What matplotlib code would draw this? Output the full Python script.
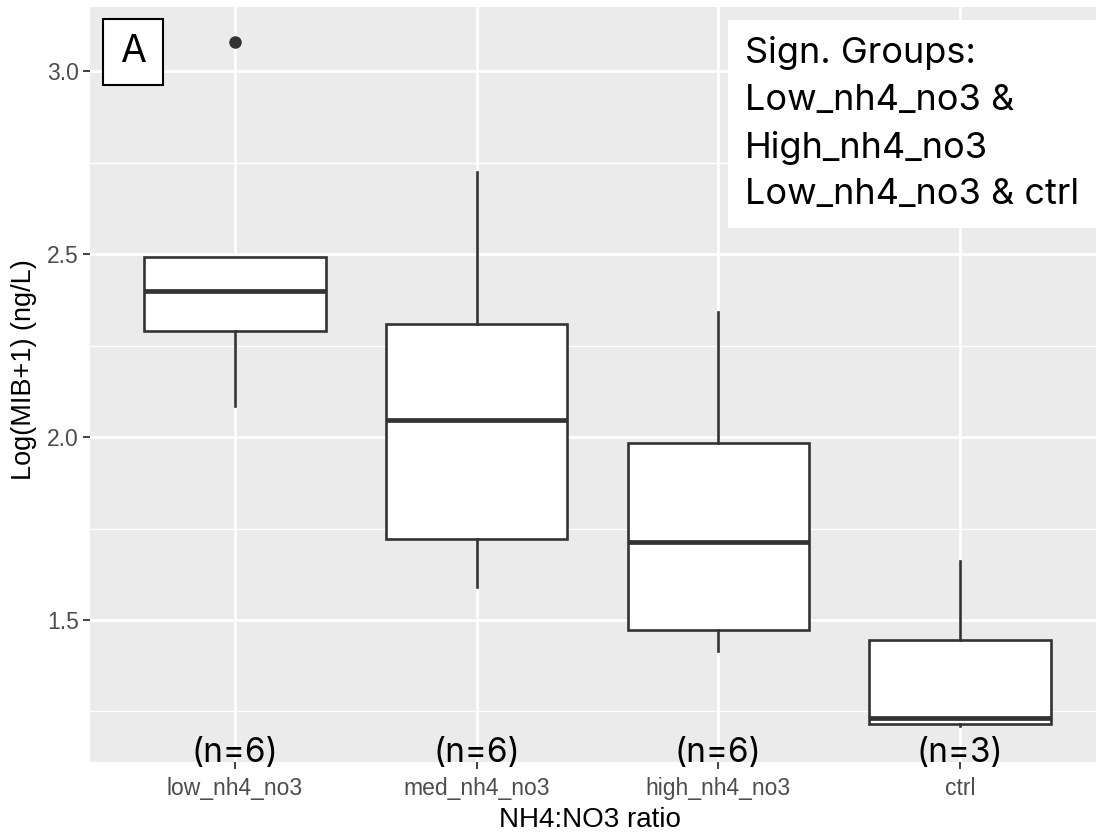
import matplotlib.pyplot as plt
from matplotlib.patches import Rectangle
from matplotlib.ticker import MultipleLocator

groups = ["low_nh4_no3", "med_nh4_no3", "high_nh4_no3", "ctrl"]
counts = [6, 6, 6, 3]
whisk_lo = [2.085, 1.59, 1.415, 1.21]
q1 = [2.29, 1.721, 1.473, 1.216]
med = [2.399, 2.046, 1.713, 1.232]
q3 = [2.492, 2.309, 1.984, 1.445]
whisk_hi = [2.492, 2.724, 2.342, 1.661]
outliers = [[3.08], [], [], []]

sign_text = "Sign. Groups:\nLow_nh4_no3 &\nHigh_nh4_no3\nLow_nh4_no3 & ctrl"

fig = plt.figure(figsize=(10.96, 8.32), dpi=100)
ax = fig.add_axes([90 / 1096, 1 - 762 / 832, 1015 / 1096, 755 / 832])
ax.set_facecolor("#EBEBEB")
for s in ax.spines.values():
    s.set_visible(False)

stats = []
for i in range(len(groups)):
    stats.append(dict(med=med[i], q1=q1[i], q3=q3[i], whislo=whisk_lo[i],
                      whishi=whisk_hi[i], fliers=outliers[i], label=groups[i]))

pos = list(range(1, len(groups) + 1))
ax.bxp(stats, positions=pos, widths=0.75, patch_artist=True, showcaps=False,
       boxprops=dict(facecolor="white", edgecolor="#333333", linewidth=1.9),
       medianprops=dict(color="#333333", linewidth=3.4, solid_capstyle="butt"),
       whiskerprops=dict(color="#333333", linewidth=1.9),
       flierprops=dict(marker="o", markerfacecolor="#333333", markeredgecolor="#333333",
                       markersize=8), zorder=3)

ax.set_xlim(0.4, 4.6)
ax.set_ylim(1.112, 3.175)
ax.yaxis.set_major_locator(MultipleLocator(0.5))
ax.yaxis.set_minor_locator(MultipleLocator(0.25))
ax.grid(which="major", color="white", linewidth=2.0, zorder=0)
ax.grid(which="minor", axis="y", color="white", linewidth=1.0, zorder=0)
ax.set_axisbelow(True)
ax.tick_params(which="minor", length=0)
ax.tick_params(which="major", length=5, width=1.3, color="#333333",
               labelcolor="#4D4D4D", labelsize=16.5)
ax.tick_params(axis="x", pad=6)
ax.tick_params(axis="y", pad=3)
ax.set_xticks(pos)
ax.set_xticklabels(groups, fontfamily="Liberation Sans")
for lab in ax.get_yticklabels():
    lab.set_fontfamily("Liberation Sans")

ax.set_xlabel("NH4:NO3 ratio", fontsize=20, fontfamily="Liberation Sans", va="center")
ax.xaxis.set_label_coords(0.5 - 8 / 1015, -58 / 755)
ax.set_ylabel("Log(MIB+1) (ng/L)", fontsize=19.5, fontfamily="Liberation Sans", va="center")
ax.yaxis.set_label_coords(-66 / 1015, 392 / 755)

for p, n in zip(pos, counts):
    ax.text(p, 1.137, f"(n={n})", ha="center", va="center", fontsize=24,
            fontfamily="Inter", color="black", zorder=5, clip_on=False)

# panel label "A"
ax.add_patch(Rectangle((0.4 + 13 / 241.67, 3.0 - 14 / 366), 60 / 241.67, 66 / 366,
                       facecolor="white", edgecolor="black", linewidth=1.5, zorder=5))
ax.text(0.4 + 43 / 241.67, 3.0 + 19 / 366, "A", ha="center", va="center",
        fontsize=27, fontfamily="Inter", zorder=6)

# significance note
ax.add_patch(Rectangle((0.4 + 638 / 241.67, 3.0 - 157 / 366), 1.6, 208 / 366,
                       facecolor="white", edgecolor="none", zorder=5))
ax.text(0.4 + 655 / 241.67, 3.0 + 35 / 366, sign_text, ha="left", va="top",
        fontsize=26, fontfamily="Inter", linespacing=1.52, zorder=6)

fig.savefig("out.png", dpi=100)
